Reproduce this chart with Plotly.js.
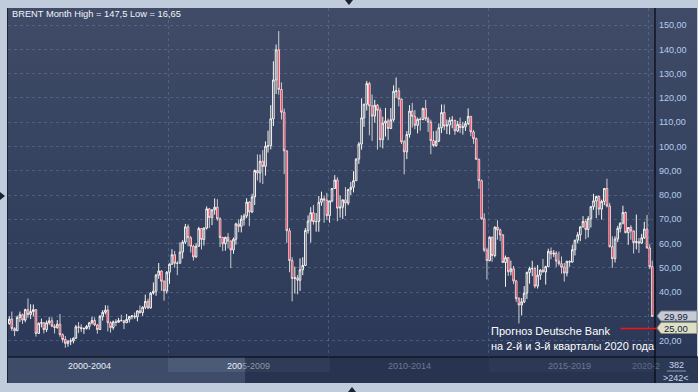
<!DOCTYPE html>
<html>
<head>
<meta charset="utf-8">
<script src="https://cdn.plot.ly/plotly-3.0.1.min.js"></script>
<style>
  html, body { margin:0; padding:0; background:#c0cbdb; }
  #wrap { position:relative; width:698px; height:392px; overflow:hidden; background:#c0cbdb; }
  #grad { position:absolute; left:8px; top:8px; width:689px; height:349px;
          background:linear-gradient(to bottom, #3f4b67 0%, #35425f 50%, #2b3857 100%); }
  #chart { position:absolute; left:0; top:0; width:698px; height:392px; }
</style>
</head>
<body>
<div id="wrap"><div id="grad"></div><div id="chart"></div></div>
<script>
// Monthly Brent OHLC, Jan 2000 .. Mar 2020 (one row per year)
const startYear = 2000;
const openP = [
 25.5,27.1,28.9,25.0,24.1,29.6,30.7,28.5,32.8,30.8,32.0,32.8,
 23.0,27.2,27.4,24.6,27.4,28.2,26.0,25.4,26.8,22.5,20.5,18.9,
 19.8,19.9,21.0,25.7,25.5,24.9,25.0,25.9,27.4,28.3,26.5,24.6,
 30.0,31.7,32.6,27.4,25.4,27.8,27.6,28.4,28.2,27.4,28.8,30.0,
 30.2,29.8,32.3,31.6,33.8,36.2,33.5,39.6,40.4,47.0,48.7,44.5,
 40.5,48.2,51.5,55.4,51.9,51.9,56.5,60.6,66.9,62.4,58.9,54.5,
 58.9,66.2,61.7,66.4,74.3,70.7,73.9,75.0,70.2,62.5,59.9,62.6,
 61.1,57.4,61.8,68.1,67.1,70.1,71.4,77.1,73.0,79.2,90.1,89.1,
 93.9,91.8,100.1,100.3,111.4,127.4,139.8,123.5,114.1,98.2,65.3,53.0,
 45.6,45.9,44.9,49.2,51.0,65.4,69.3,72.7,69.0,69.1,77.0,78.5,
 77.9,71.5,77.6,82.7,86.2,74.6,75.0,78.0,76.7,82.3,83.2,85.9,
 94.8,101.0,111.8,117.4,125.9,116.7,112.5,117.0,114.9,102.8,109.6,110.5,
 107.4,111.0,122.7,122.9,119.5,101.9,97.8,104.9,114.6,112.4,108.7,111.2,
 111.1,115.6,111.4,110.0,102.4,100.4,102.2,107.7,114.0,108.4,108.8,110.8,
 110.8,106.4,109.1,107.8,108.1,109.4,112.4,106.0,103.2,94.7,85.9,70.2,
 57.3,53.0,62.6,55.1,66.8,65.6,63.6,52.2,54.2,48.4,49.6,44.6,
 37.3,34.7,36.0,39.6,48.1,49.7,49.7,42.5,47.0,49.1,48.3,50.5,
 56.8,55.7,56.0,52.8,51.7,50.3,47.9,52.7,52.4,57.5,61.4,63.6,
 66.9,69.1,65.8,70.3,75.2,77.6,79.4,74.2,77.4,82.7,75.5,58.7,
 53.8,61.9,66.3,68.4,72.8,64.5,66.6,65.2,60.4,60.8,60.2,62.4,
 66.0,58.2,50.5
];
const highP = [
 27.4,30.0,32.0,25.6,30.3,32.0,31.2,33.2,37.4,35.0,34.9,32.9,
 27.5,29.1,27.5,28.3,29.8,29.6,26.8,28.5,31.0,23.0,21.9,20.2,
 21.0,21.4,26.5,27.7,26.8,25.5,26.5,27.6,29.9,29.6,26.8,30.6,
 32.6,34.6,34.5,28.0,28.3,28.9,29.4,30.7,28.6,31.0,30.2,30.6,
 31.6,32.4,34.5,34.2,39.0,37.3,40.1,44.0,47.5,52.0,49.0,44.8,
 48.7,51.9,57.7,57.0,52.7,60.5,61.4,68.1,67.9,63.1,59.5,60.1,
 66.9,66.2,66.7,75.3,74.6,74.0,78.6,78.3,70.8,62.8,62.8,64.4,
 61.2,62.5,68.6,69.9,71.7,72.3,78.7,77.5,80.5,90.5,96.7,96.7,
 98.5,102.1,106.5,117.0,135.1,142.0,147.5,126.4,115.6,98.3,66.4,54.4,
 50.5,47.1,53.9,54.4,66.4,71.6,75.0,75.9,72.6,79.6,81.4,79.8,
 80.9,77.6,82.9,88.2,87.3,79.8,78.2,83.3,82.4,85.4,89.8,95.2,
 101.8,119.8,117.6,127.0,126.6,121.4,119.2,117.5,116.0,112.3,115.9,111.5,
 115.8,125.2,128.4,124.2,119.8,102.6,106.3,117.0,117.95,115.0,111.9,112.0,
 116.0,119.2,112.2,111.0,106.3,106.5,109.5,117.3,117.3,111.1,112.0,112.5,
 110.9,110.5,111.9,110.1,110.5,115.7,112.4,106.8,103.7,95.0,86.4,72.5,
 58.3,63.0,62.9,67.0,69.6,66.2,63.8,55.1,54.4,53.0,50.8,45.0,
 38.0,37.6,42.5,48.5,50.5,52.9,50.5,51.2,49.4,53.7,50.9,57.9,
 58.4,57.3,56.9,56.7,54.7,52.0,52.9,53.1,59.5,61.6,64.7,67.1,
 71.3,70.0,71.3,75.5,80.5,79.7,79.9,78.1,82.9,86.7,76.8,63.0,
 63.0,67.3,68.7,75.6,73.2,66.0,67.6,65.4,71.95,62.3,64.0,69.0,
 71.75,59.7,53.0
];
const lowP = [
 23.0,26.5,24.0,21.9,24.0,27.7,26.9,27.6,29.5,28.9,30.0,21.7,
 22.8,25.5,23.0,23.6,26.6,25.6,23.0,24.9,21.6,19.2,17.1,17.5,
 18.2,18.9,20.9,23.1,23.6,22.8,24.6,24.6,26.7,26.0,22.9,24.4,
 28.3,30.8,23.8,23.3,24.5,26.0,27.3,28.1,24.8,27.3,27.5,28.8,
 28.9,28.0,31.1,30.2,33.0,33.0,33.2,39.0,38.5,45.5,40.5,36.5,
 39.4,43.4,51.2,50.1,47.0,51.9,53.8,59.8,58.9,56.3,53.0,54.2,
 58.7,57.6,59.2,65.8,66.4,67.6,71.9,69.4,58.6,56.9,57.1,58.0,
 49.9,55.8,59.6,64.7,64.6,67.4,70.5,67.2,72.6,75.9,86.0,85.1,
 84.5,88.0,97.5,98.8,108.4,121.6,121.3,111.1,88.6,60.3,48.2,36.2,
 39.4,39.1,40.5,47.0,50.8,64.1,60.4,67.8,64.9,64.9,75.6,68.6,
 69.8,68.6,77.0,82.5,69.2,70.7,70.1,71.4,75.8,80.0,81.1,85.9,
 92.8,98.7,108.1,114.8,104.6,102.3,109.8,98.7,99.7,99.2,104.1,102.6,
 107.2,110.2,120.0,116.5,101.0,88.5,94.8,103.6,107.8,107.1,105.4,106.5,
 110.8,110.5,106.0,96.8,99.7,99.9,101.8,105.5,106.7,105.1,104.9,107.5,
 104.8,105.9,105.5,104.9,106.4,108.8,104.2,101.1,94.6,82.6,69.8,56.5,
 45.2,52.7,52.5,54.3,61.6,61.0,52.0,42.2,46.7,46.9,43.3,36.0,
 27.1,30.4,35.5,37.2,43.5,46.6,41.6,41.5,45.1,48.2,43.1,50.5,
 53.6,54.5,50.3,50.9,47.6,44.35,46.5,50.3,52.1,55.1,60.1,61.0,
 66.6,61.8,62.5,66.6,73.9,70.5,71.7,69.9,75.8,74.9,58.4,50.0,
 52.2,60.6,64.6,67.9,64.2,59.5,61.6,55.9,57.6,56.15,59.8,61.9,
 57.9,49.5,29.99
];
const closeP = [
 27.1,28.9,25.0,24.1,29.6,30.7,28.5,32.8,30.8,32.0,32.8,23.0,
 27.2,27.4,24.6,27.4,28.2,26.0,25.4,26.8,22.5,20.5,18.9,19.8,
 19.9,21.0,25.7,25.5,24.9,25.0,25.9,27.4,28.3,26.5,24.6,30.0,
 31.7,32.6,27.4,25.4,27.8,27.6,28.4,28.2,27.4,28.8,30.0,30.2,
 29.8,32.3,31.6,33.8,36.2,33.5,39.6,40.4,47.0,48.7,44.5,40.5,
 48.2,51.5,55.4,51.9,51.9,56.5,60.6,66.9,62.4,58.9,54.5,58.9,
 66.2,61.7,66.4,74.3,70.7,73.9,75.0,70.2,62.5,59.9,62.6,61.1,
 57.4,61.8,68.1,67.1,70.1,71.4,77.1,73.0,79.2,90.1,89.1,93.9,
 91.8,100.1,100.3,111.4,127.4,139.8,123.5,114.1,98.2,65.3,53.0,45.6,
 45.9,44.9,49.2,51.0,65.4,69.3,72.7,69.0,69.1,77.0,78.5,77.9,
 71.5,77.6,82.7,86.2,74.6,75.0,78.0,76.7,82.3,83.2,85.9,94.8,
 101.0,111.8,117.4,125.9,116.7,112.5,117.0,114.9,102.8,109.6,110.5,107.4,
 111.0,122.7,122.9,119.5,101.9,97.8,104.9,114.6,112.4,108.7,111.2,111.1,
 115.6,111.4,110.0,102.4,100.4,102.2,107.7,114.0,108.4,108.8,110.8,110.8,
 106.4,109.1,107.8,108.1,109.4,112.4,106.0,103.2,94.7,85.9,70.2,57.3,
 53.0,62.6,55.1,66.8,65.6,63.6,52.2,54.2,48.4,49.6,44.6,37.3,
 34.7,36.0,39.6,48.1,49.7,49.7,42.5,47.0,49.1,48.3,50.5,56.8,
 55.7,56.0,52.8,51.7,50.3,47.9,52.7,52.4,57.5,61.4,63.6,66.9,
 69.1,65.8,70.3,75.2,77.6,79.4,74.2,77.4,82.7,75.5,58.7,53.8,
 61.9,66.3,68.4,72.8,64.5,66.6,65.2,60.4,60.8,60.2,62.4,66.0,
 58.2,50.5,29.99
];
const yTicks = [20,30,40,50,60,70,80,90,100,110,120,130,140,150];
const hiddenTick = 30; // covered by the last-price tag in the reference
const bandLabels = ['2000-2004','2005-2009','2010-2014','2015-2019','2020-2'];
const titleText = 'BRENT Month High = 147,5 Low = 16,65';
const lastPrice = 29.99;
const forecast = 25.00;
const forecastText1 = 'Прогноз Deutsche Bank';
const forecastText2 = 'на 2-й и 3-й кварталы 2020 года';
const barsTotal = '382';
const barsVisible = '>242<';

const fmt = v => v.toFixed(2).replace('.', ',');
const dates = closeP.map((_, i) => {
  const y = startYear + Math.floor(i / 12);
  const m = (i % 12) + 1;
  return y + '-' + String(m).padStart(2, '0') + '-01';
});

// pixel -> paper helpers (plot area: x 8..655, y 8..357)
const L = 8, R = 655, T = 8, B = 357;
const px = x => (x - L) / (R - L);
const py = y => (B - y) / (B - T);
const rect = (x0, y0, x1, y1, fill, layer) => ({type:'rect', xref:'paper', yref:'paper',
  x0:px(x0), x1:px(x1), y0:py(y1), y1:py(y0), fillcolor:fill, line:{width:0}, layer:layer||'below'});
const seg = (x0, y0, x1, y1, color, w) => ({type:'line', xref:'paper', yref:'paper',
  x0:px(x0), x1:px(x1), y0:py(y0), y1:py(y1), line:{color:color, width:w}, layer:'above'});
const poly = (pts, fill, lineColor) => ({type:'path', xref:'paper', yref:'paper',
  path:'M' + pts.map(p => px(p[0]) + ',' + py(p[1])).join(' L') + ' Z',
  fillcolor:fill, line:{color:lineColor || fill, width:lineColor ? 1 : 0}, layer:'above'});

const trace = {
  type:'candlestick', x:dates, open:openP, high:highP, low:lowP, close:closeP,
  increasing:{line:{color:'#f6f4f0', width:1}, fillcolor:'rgba(0,0,0,0)'},
  decreasing:{line:{color:'#f6f4f0', width:0.8}, fillcolor:'#ff0a30'},
  whiskerwidth:0, hoverinfo:'skip', showlegend:false
};

const shapes = [
  // x-axis strip
  rect(8, 357, 655, 383, '#28344f'),
  rect(8, 357, 245, 383, '#3e4c69'),
  rect(168, 358, 245, 372, '#4b5a77'),
  rect(245, 358, 330, 372, '#2f3b57'),
  rect(489, 358, 655, 372, '#2d3954'),
  rect(655, 357, 698, 383, '#2c3955'),
  // frame lines
  seg(7.5, 8, 7.5, 383, '#1b2333', 1),
  seg(655, 8, 655, 383, '#05080e', 1.2),
  seg(8, 357, 698, 357, '#05080e', 1.2),
  // small arrows on the outer frame
  poly([[345,0],[353,0],[349,5]], '#1a2232'),
  poly([[348,392],[356,392],[352,387]], '#1a2232'),
  poly([[0,192],[0,200],[5,196]], '#1a2232'),
  // forecast line at 25
  {type:'line', xref:'paper', yref:'y', x0:px(620.5), x1:px(657), y0:forecast, y1:forecast,
   line:{color:'#ff1010', width:1.5}, layer:'above'},
  // price tags
  poly([[657,316],[661,311],[697,311],[697,321],[661,321]], '#c6cad4', '#7d8799'),
  poly([[657,328],[661,322.5],[697,322.5],[697,333.5],[661,333.5]], '#dde0c7', '#8a8f7a'),
  // corner divider
  seg(667, 371, 686, 371, '#8796b3', 1)
];

const ann = (x, y, text, size, color, anchor) => ({xref:'paper', yref:'paper', x:px(x), y:py(y),
  text:text, showarrow:false, xanchor:anchor || 'center', yanchor:'middle',
  font:{family:'Liberation Sans, Arial, sans-serif', size:size, color:color}});

const annotations = [
  ann(10, 14.5, titleText, 9.3, '#f2f5fa', 'left'),
  ann(89, 365.5, bandLabels[0], 9, '#e8eef8'),
  ann(248.5, 365.5, "<span style='color:#e8eef8'>200</span><span style='color:#8c97aa'>5-2009</span>", 9, '#8c97aa'),
  ann(409.5, 365.5, bandLabels[2], 9, '#6c7890'),
  ann(569, 365.5, bandLabels[3], 9, '#6c7890'),
  ann(630, 365.5, bandLabels[4], 9, '#5f6b82', 'left'),
  ann(489, 331, forecastText1, 11, '#ffffff', 'left'),
  ann(489, 346, forecastText2, 11, '#ffffff', 'left'),
  {xref:'paper', yref:'y', x:px(662), y:lastPrice, text:fmt(lastPrice), showarrow:false,
   xanchor:'left', yanchor:'middle', font:{family:'Liberation Sans, Arial, sans-serif', size:9.5, color:'#14213d'}},
  {xref:'paper', yref:'y', x:px(662), y:forecast, text:fmt(forecast), showarrow:false,
   xanchor:'left', yanchor:'middle', font:{family:'Liberation Sans, Arial, sans-serif', size:9.5, color:'#14213d'}},
  ann(676.5, 364.5, barsTotal, 9, '#c6d6ee'),
  ann(676.5, 377.5, barsVisible, 9, '#c6d6ee')
];

const layout = {
  width:698, height:392,
  margin:{l:8, r:43, t:8, b:35, pad:0},
  paper_bgcolor:'rgba(0,0,0,0)', plot_bgcolor:'rgba(0,0,0,0)',
  separators:', ',
  showlegend:false,
  boxgap:0.05,
  xaxis:{type:'date', range:['2000-01-17','2020-04-01'], rangeslider:{visible:false},
    showticklabels:false, ticks:'', tick0:'2000-01-20', dtick:'M60',
    showgrid:true, gridcolor:'rgba(112,128,160,0.45)', griddash:'3px,3px', gridwidth:1,
    zeroline:false, showline:false, fixedrange:true},
  yaxis:{side:'right', range:[13.29, 157.03], tickmode:'array', tickvals:yTicks,
    ticktext:yTicks.map(v => v === hiddenTick ? '' : fmt(v)),
    showgrid:true, gridcolor:'rgba(112,128,160,0.45)', griddash:'3px,3px', gridwidth:1,
    ticks:'', ticklabelstandoff:3,
    tickfont:{family:'Liberation Sans, Arial, sans-serif', size:9, color:'#b4cdee'},
    zeroline:false, showline:false, fixedrange:true},
  shapes:shapes,
  annotations:annotations
};

Plotly.newPlot('chart', [trace], layout, {staticPlot:true, displayModeBar:false});
</script>
</body>
</html>
